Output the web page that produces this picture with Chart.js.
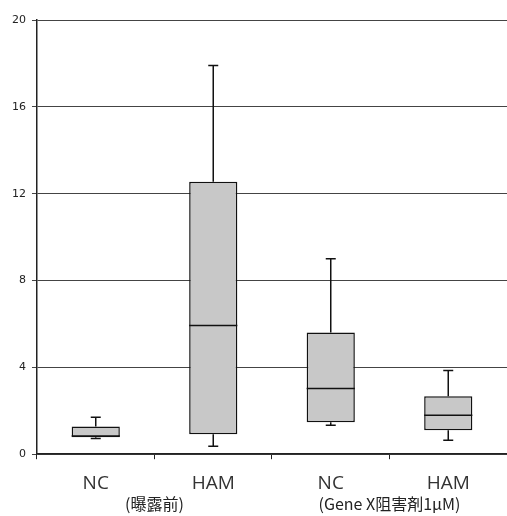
<!DOCTYPE html>
<html>
<head>
<meta charset="utf-8">
<script src="https://cdn.jsdelivr.net/npm/chart.js@4"></script>
<style>
  body { margin: 0; background: #fff; }
  #wrap { width: 507px; height: 516px; }
</style>
</head>
<body>
<div id="wrap"><canvas id="boxChart"></canvas></div>
<script>
// box plot data
const labels = ['NC', 'HAM', 'NC', 'HAM'];
const mins    = [0.72, 0.37, 1.33, 0.64];
const q1s     = [0.78, 0.92, 1.47, 1.10];
const medians = [0.84, 5.93, 3.03, 1.79];
const q3s     = [1.28, 12.55, 5.60, 2.67];
const maxs    = [1.70, 17.9, 9.00, 3.86];
const yTicks  = [0, 4, 8, 12, 16, 20];
const groupLabels = ['(曝露前)', '(Gene X阻害剤1μM)'];

// whiskers + median lines drawn on top of the floating bars
const boxExtras = {
  id: 'boxExtras',
  afterDatasetsDraw(chart) {
    const ctx = chart.ctx;
    const y = chart.scales.y;
    const meta = chart.getDatasetMeta(0);
    ctx.save();
    ctx.strokeStyle = '#111';
    ctx.lineWidth = 1.5;
    meta.data.forEach((bar, i) => {
      const x = bar.x;
      const half = bar.width / 2;
      const cap = 5;
      ctx.beginPath();
      // median
      ctx.moveTo(x - half, y.getPixelForValue(medians[i]));
      ctx.lineTo(x + half, y.getPixelForValue(medians[i]));
      // upper whisker
      ctx.moveTo(x, y.getPixelForValue(q3s[i]));
      ctx.lineTo(x, y.getPixelForValue(maxs[i]));
      ctx.moveTo(x - cap, y.getPixelForValue(maxs[i]));
      ctx.lineTo(x + cap, y.getPixelForValue(maxs[i]));
      // lower whisker
      ctx.moveTo(x, y.getPixelForValue(q1s[i]));
      ctx.lineTo(x, y.getPixelForValue(mins[i]));
      ctx.moveTo(x - cap, y.getPixelForValue(mins[i]));
      ctx.lineTo(x + cap, y.getPixelForValue(mins[i]));
      ctx.stroke();
    });
    ctx.restore();
  },
  afterDraw(chart) {
    // group labels under each pair of categories
    const ctx = chart.ctx;
    const x = chart.scales.x;
    ctx.save();
    ctx.fillStyle = '#222';
    ctx.font = '16px "Noto Sans CJK JP", "Open Sans", sans-serif';
    ctx.textAlign = 'center';
    ctx.textBaseline = 'middle';
    groupLabels.forEach((g, i) => {
      const cx = (x.getPixelForValue(i * 2) + x.getPixelForValue(i * 2 + 1)) / 2;
      ctx.fillText(g, cx, 504);
    });
    ctx.restore();
  }
};

new Chart(document.getElementById('boxChart'), {
  type: 'bar',
  data: {
    labels: labels,
    datasets: [{
      data: q1s.map((q, i) => [q, q3s[i]]),
      backgroundColor: '#c8c8c8',
      borderColor: '#111',
      borderWidth: 1.5,
      borderSkipped: false,
      categoryPercentage: 1,
      barPercentage: 0.41,
    }],
  },
  options: {
    responsive: true,
    maintainAspectRatio: false,
    animation: false,
    layout: { padding: { top: 20, right: 0, bottom: 8, left: 6 } },
    plugins: {
      legend: { display: false },
      tooltip: { enabled: false },
    },
    scales: {
      x: {
        border: { color: '#222', width: 1.5 },
        grid: { drawOnChartArea: false, tickLength: 5, color: '#222' },
        ticks: {
          color: '#333',
          padding: 13,
          font: { size: 19, family: '"Open Sans", "DejaVu Sans", sans-serif' },
        },
      },
      y: {
        min: 0,
        max: 20,
        afterBuildTicks: (axis) => { axis.ticks = yTicks.map(v => ({ value: v })); },
        border: { color: '#222', width: 1.5 },
        grid: { color: '#444', lineWidth: 1, tickLength: 5 },
        ticks: {
          color: '#222',
          padding: 6,
          font: { size: 11, family: '"DejaVu Sans", sans-serif' },
        },
      },
    },
  },
  plugins: [boxExtras],
});
</script>
</body>
</html>
